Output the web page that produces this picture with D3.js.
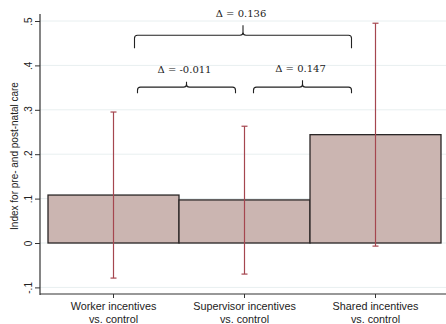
<!DOCTYPE html>
<html><head><meta charset="utf-8">
<script src="https://cdn.jsdelivr.net/npm/d3@7"></script>
<style>body{margin:0;background:#fff}svg{display:block}</style>
</head><body>
<svg id="c" width="446" height="324"></svg>
<script>
const categories = [["Worker incentives","vs. control"],["Supervisor incentives","vs. control"],["Shared incentives","vs. control"]];
const means = [0.108, 0.097, 0.244];
const ciLow = [-0.079, -0.070, -0.007];
const ciHigh = [0.295, 0.263, 0.495];
const yTicks = [-0.1, 0, 0.1, 0.2, 0.3, 0.4, 0.5];
const yTickLabels = ["-.1", "0", ".1", ".2", ".3", ".4", ".5"];
const deltaLabels = ["Δ = 0.136", "Δ = -0.011", "Δ = 0.147"];
const deltaFrom = [0, 0, 1];
const deltaTo = [2, 1, 2];
const deltaLevel = [0.468, 0.351, 0.351];

(function(){
const svg = d3.select("#c");
const pLeft = 40, pRight = 446, pTop = 14, pBottom = 294;
const y = d3.scaleLinear().domain([0, 0.5]).range([243, 21]);
const x = d3.scaleBand().domain(d3.range(categories.length)).range([48, 441]).padding(0);
const cx = i => x(i) + x.bandwidth() / 2;

// gridlines
svg.append("g").selectAll("line").data(yTicks).join("line")
  .attr("x1", pLeft).attr("x2", pRight)
  .attr("y1", d => y(d)).attr("y2", d => y(d))
  .attr("stroke", "#e8eff0").attr("stroke-width", 1);

// bars
svg.append("g").selectAll("rect").data(means).join("rect")
  .attr("x", (d, i) => x(i)).attr("width", x.bandwidth())
  .attr("y", d => y(d)).attr("height", d => y(0) - y(d))
  .attr("fill", "#cbb5b1").attr("stroke", "#2a2626").attr("stroke-width", 1.3);

// error bars
const eb = svg.append("g").attr("stroke", "#a5464f").attr("stroke-width", 1.2);
means.forEach((m, i) => {
  eb.append("line").attr("x1", cx(i)).attr("x2", cx(i)).attr("y1", y(ciLow[i])).attr("y2", y(ciHigh[i]));
  eb.append("line").attr("x1", cx(i) - 3).attr("x2", cx(i) + 3).attr("y1", y(ciLow[i])).attr("y2", y(ciLow[i]));
  eb.append("line").attr("x1", cx(i) - 3).attr("x2", cx(i) + 3).attr("y1", y(ciHigh[i])).attr("y2", y(ciHigh[i]));
});

// y axis
const ya = svg.append("g").attr("transform", `translate(${pLeft},0)`)
  .call(d3.axisLeft(y).tickValues(yTicks).tickFormat((d, i) => yTickLabels[i]).tickSize(5).tickPadding(3));
ya.select(".domain").remove();
ya.selectAll(".tick line").attr("stroke", "#333");
ya.selectAll(".tick text").attr("font-family", "Liberation Sans, Arial, sans-serif").attr("font-size", 10)
  .attr("fill", "#222").attr("text-anchor", "middle").attr("dy", 0)
  .attr("transform", "translate(-11,0) rotate(-90)")
  .attr("x", 0).attr("y", 0).attr("dominant-baseline", "middle");
svg.append("line").attr("x1", pLeft).attr("x2", pLeft).attr("y1", pTop).attr("y2", pBottom + 1)
  .attr("stroke", "#333").attr("stroke-width", 1.2);

// x axis
svg.append("line").attr("x1", pLeft).attr("x2", pRight).attr("y1", pBottom).attr("y2", pBottom)
  .attr("stroke", "#333").attr("stroke-width", 1.2);
svg.append("g").selectAll("line").data(categories).join("line")
  .attr("x1", (d, i) => cx(i)).attr("x2", (d, i) => cx(i))
  .attr("y1", pBottom).attr("y2", pBottom + 4)
  .attr("stroke", "#333").attr("stroke-width", 1);

categories.forEach((c, i) => {
  c.forEach((t, k) => {
    svg.append("text").attr("x", cx(i)).attr("y", 310 + k * 13)
      .attr("text-anchor", "middle").attr("font-family", "Liberation Sans, Arial, sans-serif")
      .attr("font-size", 10.8).attr("fill", "#222").text(t);
  });
});

// y title
svg.append("text").attr("transform", "translate(15,156) rotate(-90)")
  .attr("text-anchor", "middle").attr("dominant-baseline", "middle")
  .attr("font-family", "Liberation Sans, Arial, sans-serif").attr("font-size", 10).attr("fill", "#222")
  .text("Index for pre- and post-natal care");

// brackets
const offL = [21, 24, 9], offR = [24, 9, 24];
const drops = [13, 6, 6], peaks = [10, 5.5, 7];
const bg = svg.append("g");
deltaLabels.forEach((lab, k) => {
  const x1 = cx(deltaFrom[k]) + offL[k], x2 = cx(deltaTo[k]) - offR[k];
  const yy = y(deltaLevel[k]);
  const xm = (x1 + x2) / 2;
  const r = 3, drop = drops[k], peak = peaks[k];
  const p = `M${x1},${yy + drop} L${x1},${yy + r} Q${x1},${yy} ${x1 + r},${yy} L${xm - r},${yy} Q${xm},${yy} ${xm},${yy - Math.min(3, peak)} L${xm},${yy - peak} M${xm},${yy - Math.min(3, peak)} Q${xm},${yy} ${xm + r},${yy} L${x2 - r},${yy} Q${x2},${yy} ${x2},${yy + r} L${x2},${yy + drop}`;
  bg.append("path").attr("d", p).attr("fill", "none").attr("stroke", "#222").attr("stroke-width", 1.1);
  bg.append("text").attr("x", xm - 2).attr("y", yy - peak - 8.5)
    .attr("text-anchor", "middle").attr("font-family", "DejaVu Serif, serif").attr("font-size", 10)
    .attr("fill", "#222").text(lab);
});
})();
</script>
</body></html>
